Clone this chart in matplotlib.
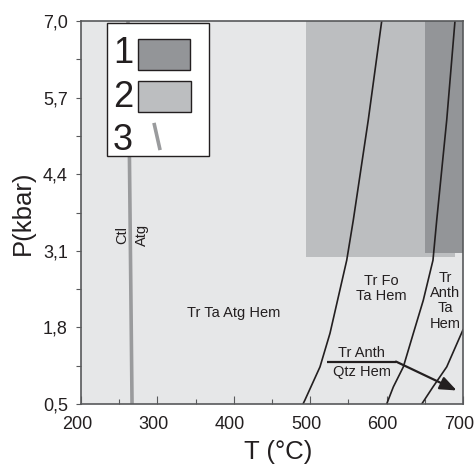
import matplotlib
matplotlib.use("Agg")
import matplotlib.pyplot as plt
from matplotlib.patches import Rectangle
from matplotlib.ticker import FixedLocator, FixedFormatter
from matplotlib.transforms import ScaledTranslation

plt.rcParams['font.family'] = ['Liberation Sans', 'DejaVu Sans']

# ---- data ----
x_ticks = [200, 300, 400, 500, 600, 700]
x_minor = [250, 350, 450, 550, 650]
y_ticks = [0.5, 1.8, 3.1, 4.4, 5.7, 7.0]
y_tick_labels = ["0,5", "1,8", "3,1", "4,4", "5,7", "7,0"]
y_minor = [1.15, 2.45, 3.75, 5.05, 6.35]

# shaded fields (T range, P range)
field2_T = [495, 690]
field2_P = [3.0, 7.0]
field1_T = [650, 700]
field1_P = [3.07, 7.0]

# reaction curves
curveA_T = [593.6, 576.0, 556.4, 547.8, 525.9, 512.8, 493.2, 490.6]
curveA_P = [7.0, 5.32, 3.62, 2.94, 1.70, 1.13, 0.57, 0.5]
curveB_T = [689.5, 678.7, 665.6, 660.7, 648.0, 635.0, 621.9, 608.8, 600.1]
curveB_P = [7.0, 5.32, 3.62, 2.94, 2.26, 1.70, 1.13, 0.79, 0.5]
curveC_T = [700.0, 678.7, 660.7, 646.0]
curveC_P = [1.76, 1.13, 0.79, 0.5]

# Ctl / Atg boundary (gray line)
ctl_T = [261.5, 266.8]
ctl_P = [7.0, 0.5]

# arrow path
arrow_T = [522.4, 612.3, 691.7]
arrow_P = [1.22, 1.22, 0.73]

txt_color = '#231f20'
dark = '#939598'
light = '#bcbec0'

fig = plt.figure(figsize=(4.74, 4.69), dpi=100)
ax = fig.add_axes([0.1709, 0.1386, 0.8059, 0.8166])
ax.set_facecolor('#e6e7e8')
ax.set_xlim(200, 700)
ax.set_ylim(0.5, 7.0)

ax.add_patch(Rectangle((field2_T[0], field2_P[0]), field2_T[1] - field2_T[0],
                       field2_P[1] - field2_P[0], facecolor=light, edgecolor='none', zorder=1))
ax.add_patch(Rectangle((field1_T[0], field1_P[0]), field1_T[1] - field1_T[0],
                       field1_P[1] - field1_P[0], facecolor=dark, edgecolor='none', zorder=1.1))

ax.plot(ctl_T, ctl_P, color='#9a9b9d', lw=2.6, zorder=2, solid_capstyle='butt')

for T, P in [(curveA_T, curveA_P), (curveB_T, curveB_P), (curveC_T, curveC_P)]:
    ax.plot(T, P, color='#231f20', lw=1.2, zorder=3)

ax.plot(arrow_T[:2], arrow_P[:2], color='#231f20', lw=1.6, zorder=3, solid_capstyle='butt')
ax.annotate('', xy=(arrow_T[2], arrow_P[2]), xytext=(arrow_T[1], arrow_P[1]),
            arrowprops=dict(arrowstyle='-|>,head_length=0.8,head_width=0.32',
                            mutation_scale=12.5, color='#231f20', lw=1.6,
                            shrinkA=0, shrinkB=0), zorder=3)

# labels in the fields
fs = 10.5
ax.text(400.3, 2.04, "Tr Ta Atg Hem", fontsize=fs, color=txt_color, ha='center', va='center')
ax.text(253.7, 3.37, "Ctl", fontsize=fs, color=txt_color, ha='center', va='center', rotation=90)
ax.text(279.8, 3.37, "Atg", fontsize=fs, color=txt_color, ha='center', va='center', rotation=90)
ax.text(592.7, 2.46, "Tr Fo\nTa Hem", fontsize=fs, color=txt_color, ha='center', va='center',
        linespacing=1.1)
ax.text(676.4, 2.25, "Tr\nAnth\nTa\nHem", fontsize=fs, color=txt_color, ha='center', va='center',
        linespacing=1.1)
ax.text(567.4, 1.36, "Tr Anth", fontsize=fs, color=txt_color, ha='center', va='center')
ax.text(567.4, 1.05, "Qtz Hem", fontsize=fs, color=txt_color, ha='center', va='center')

# legend box (axes coordinates)
tr = ax.transAxes
ax.add_patch(Rectangle((0.068, 0.648), 0.267, 0.347, transform=tr, facecolor='white',
                       edgecolor='#231f20', lw=1.0, zorder=5))
ax.add_patch(Rectangle((0.149, 0.872), 0.136, 0.081, transform=tr, facecolor=dark,
                       edgecolor='#231f20', lw=1.0, zorder=6))
ax.add_patch(Rectangle((0.149, 0.762), 0.139, 0.081, transform=tr, facecolor=light,
                       edgecolor='#231f20', lw=1.0, zorder=6))
ax.plot([0.191, 0.207], [0.734, 0.663], transform=tr, color='#9a9b9d', lw=2.6, zorder=6,
        solid_capstyle='butt')
for lab, yy in [("1", 0.914), ("2", 0.799), ("3", 0.689)]:
    ax.text(0.110, yy, lab, transform=tr, fontsize=26, color=txt_color, ha='center',
            va='center', zorder=7)

# axes styling
for s in ax.spines.values():
    s.set_color('#58595b')
    s.set_linewidth(1.2)
    s.set_zorder(8)

ax.xaxis.set_major_locator(FixedLocator(x_ticks))
ax.xaxis.set_minor_locator(FixedLocator(x_minor))
ax.yaxis.set_major_locator(FixedLocator(y_ticks))
ax.yaxis.set_major_formatter(FixedFormatter(y_tick_labels))
ax.yaxis.set_minor_locator(FixedLocator(y_minor))

ax.tick_params(axis='x', which='major', direction='in', length=5.8, width=0.8,
               colors='#58595b', labelcolor=txt_color, labelsize=13, pad=9)
ax.tick_params(axis='x', which='minor', direction='in', length=3.6, width=0.8, colors='#58595b')
ax.tick_params(axis='y', which='both', direction='out', length=3.5, width=0.8,
               colors='#58595b', labelcolor=txt_color, labelsize=13, pad=6)

shift = ScaledTranslation(-4 / 100, 0, fig.dpi_scale_trans)
for lbl in ax.get_xticklabels():
    lbl.set_transform(lbl.get_transform() + shift)

ax.set_xlabel("T (°C)", fontsize=18.5, color=txt_color, labelpad=7)
ax.xaxis.set_label_coords(0.516, -0.095)
ax.xaxis.label.set_va('top')
ax.set_ylabel("P(kbar)", fontsize=18.5, color=txt_color, labelpad=6)

fig.savefig("out.png", dpi=100, facecolor='white')
